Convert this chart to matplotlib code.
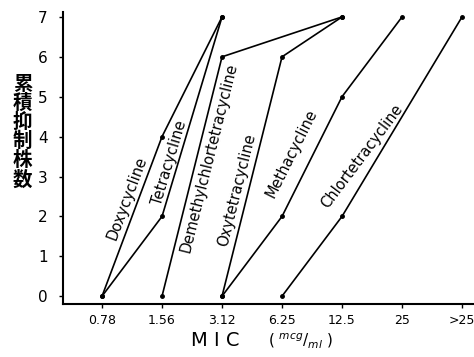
import numpy as np
import matplotlib
matplotlib.use('Agg')
import matplotlib.pyplot as plt

plt.rcParams['font.family'] = ['DejaVu Sans', 'Noto Sans CJK JP']

# MIC の刻み (x は位置番号 0..6)
tick_labels = ['0.78', '1.56', '3.12', '6.25', '12.5', '25', '>25']

# 各薬剤の累積抑制株数 (x位置, 株数)
doxy_x = [0, 1, 2]
doxy_y = [0, 4, 7]
tetra_x = [0, 1, 2]
tetra_y = [0, 2, 7]
demeth_x = [1, 2, 4]
demeth_y = [0, 6, 7]
oxy_x = [2, 3, 4]
oxy_y = [0, 6, 7]
metha_x = [2, 3, 4, 5]
metha_y = [0, 2, 5, 7]
chlor_x = [3, 4, 6]
chlor_y = [0, 2, 7]

series = [
    ('Doxycycline', doxy_x, doxy_y, (0.42, 2.45), 1),
    ('Tetracycline', tetra_x, tetra_y, (1.12, 3.33), 2),
    ('Demethylchlortetracycline', demeth_x, demeth_y, (1.78, 3.46), 1),
    ('Oxytetracycline', oxy_x, oxy_y, (2.24, 2.66), 1),
    ('Methacycline', metha_x, metha_y, (3.16, 3.58), 2),
    ('Chlortetracycline', chlor_x, chlor_y, (4.33, 3.50), 1),
]

fig = plt.figure(figsize=(4.74, 3.57), dpi=100)
ax = fig.add_axes([0.133, 0.148, 0.867, 0.818])

for name, xs, ys, pos, seg in series:
    ax.plot(xs, ys, color='black', lw=1.2, marker='o', ms=2.5)

ax.set_xlim(-0.65, 6.2)
ax.set_ylim(-0.2, 7.12)
ax.set_xticks(range(len(tick_labels)))
ax.set_xticklabels(tick_labels, fontsize=9)
ax.set_yticks(range(8))
ax.set_yticklabels([str(i) for i in range(8)], fontsize=11)
ax.tick_params(axis='both', direction='out', length=3, width=1, pad=4)
ax.tick_params(axis='y', pad=8)
for s in ['top', 'right']:
    ax.spines[s].set_visible(False)
for s in ['left', 'bottom']:
    ax.spines[s].set_linewidth(1.5)

# ラベルは線分に沿って回転
fig.canvas.draw()
for name, xs, ys, pos, seg in series:
    p0 = ax.transData.transform((xs[seg - 1], ys[seg - 1]))
    p1 = ax.transData.transform((xs[seg], ys[seg]))
    ang = np.degrees(np.arctan2(p1[1] - p0[1], p1[0] - p0[0]))
    ax.text(pos[0], pos[1], name, rotation=ang, rotation_mode='anchor',
            ha='center', va='center', fontsize=10.5)

fig.text(0.048, 0.63, '\n'.join('累積抑制株数'), fontsize=14,
         ha='center', va='center', linespacing=1.0, fontweight='bold',
         family=['Noto Sans CJK JP', 'DejaVu Sans'])
fig.text(0.455, 0.045, 'M I C', fontsize=14, ha='center', va='center')
fig.text(0.635, 0.045, r'( $^{mcg}$/$_{ml}$ )', fontsize=11, ha='center', va='center')

fig.savefig('out.png', dpi=100)
